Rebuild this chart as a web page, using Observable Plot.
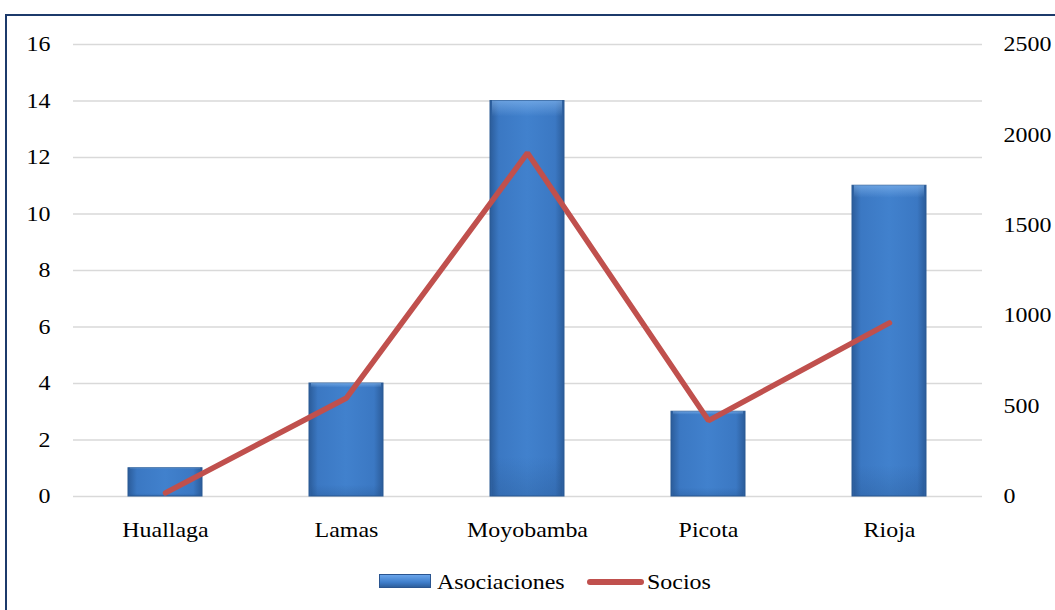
<!DOCTYPE html>
<html>
<head>
<meta charset="utf-8">
<script src="https://cdn.jsdelivr.net/npm/d3@7"></script>
<script src="https://cdn.jsdelivr.net/npm/@observablehq/plot@0.6"></script>
<style>
  html, body { margin: 0; padding: 0; background: #fff; }
  #wrap { position: relative; width: 1055px; height: 610px; overflow: hidden; font-family: "Liberation Serif", serif; }
  #frame { position: absolute; left: 5px; top: 14px; width: 1100px; height: 700px; border: 2px solid #1c3a6b; box-sizing: border-box; }
  #chart { position: absolute; left: 0; top: 0; }
  #chart svg, #chart svg text { font-family: "Liberation Serif", serif !important; }
  .lg { position: absolute; }
  .lg-text { position: absolute; top: 569px; font-size: 21px; line-height: 26px; color: #000; transform: scaleX(1.14); transform-origin: left center; white-space: nowrap; }
  .sw-bar { left: 379px; top: 574px; width: 52px; height: 14px; background: linear-gradient(to bottom, #6aa5ea, #3f7ecb 60%, #2d5f9e); border: 1px solid #2a5590; box-sizing: border-box; }
  .sw-line { left: 587px; top: 579px; width: 57px; height: 6px; background: #c0504d; border-radius: 3px; }
</style>
</head>
<body>
<div id="wrap">
  <div id="frame"></div>
  <div id="chart"></div>
  <div class="lg sw-bar"></div>
  <div class="lg-text" style="left:437px">Asociaciones</div>
  <div class="lg sw-line"></div>
  <div class="lg-text" style="left:647px">Socios</div>
</div>
<script>
const provincias = ["Huallaga", "Lamas", "Moyobamba", "Picota", "Rioja"];
const asociaciones = [1, 4, 14, 3, 11];
const socios = [20, 545, 1900, 420, 960];
const leftTicks = [0, 2, 4, 6, 8, 10, 12, 14, 16];
const rightTicks = [0, 500, 1000, 1500, 2000, 2500];
const leftMax = 16;
const rightMax = 2500;

const k = leftMax / rightMax;
const barData = provincias.map((p, i) => ({p, v: asociaciones[i]}));
const lineData = provincias.map((p, i) => ({p, v: socios[i] * k, raw: socios[i]}));

const W = 1055, H = 560;
const chart = Plot.plot({
  width: W,
  height: H,
  marginLeft: 73,
  marginRight: 73,
  marginTop: 44,
  marginBottom: H - 496,
  style: {fontFamily: "Liberation Serif", fontSize: "21px", color: "#000", background: "transparent"},
  x: {domain: provincias, paddingInner: 0.59, paddingOuter: 0.295, label: null},
  y: {domain: [0, leftMax], label: null},
  marks: [
    Plot.ruleY(leftTicks, {stroke: "#d9d9d9", strokeWidth: 1.5}),
    Plot.barY(barData, {x: "p", y: "v", fill: "url(#barGrad)", stroke: "#2a5a94", strokeWidth: 1}),
    Plot.barY(barData, {x: "p", y: "v", fill: "url(#barTop)", insetLeft: 2, insetRight: 2}),
    Plot.line(lineData, {x: "p", y: "v", stroke: "#c0504d", strokeWidth: 5.5, strokeLinecap: "round", strokeLinejoin: "miter"}),
    Plot.axisY(leftTicks, {anchor: "left", tickSize: 0, tickPadding: 23, label: null, fontSize: 21}),
    Plot.axisY(rightTicks.map(t => t * k), {anchor: "right", tickSize: 0, tickPadding: 21, label: null, fontSize: 21, textAnchor: "start", tickFormat: (d) => String(Math.round(d / k))}),
    Plot.axisX({tickSize: 0, tickPadding: 26, label: null, fontSize: 21})
  ]
});
chart.insertAdjacentHTML("afterbegin", `
<defs>
  <linearGradient id="barGrad" x1="0" x2="1" y1="0" y2="0">
    <stop offset="0" stop-color="#2b5c9a"/>
    <stop offset="0.12" stop-color="#3b78c3"/>
    <stop offset="0.5" stop-color="#4181cd"/>
    <stop offset="0.88" stop-color="#3b78c3"/>
    <stop offset="1" stop-color="#2b5c9a"/>
  </linearGradient>
  <linearGradient id="barTop" x1="0" x2="0" y1="0" y2="1">
    <stop offset="0" stop-color="#8fc0f5" stop-opacity="0.55"/>
    <stop offset="0.04" stop-color="#8fc0f5" stop-opacity="0"/>
    <stop offset="0.9" stop-color="#1f4a80" stop-opacity="0"/>
    <stop offset="1" stop-color="#1f4a80" stop-opacity="0.25"/>
  </linearGradient>
</defs>`);
// widen text horizontally about its anchor point, to match the reference's stretched type
const sx = 1.14;
chart.querySelectorAll("text").forEach(t => {
  const x = parseFloat(t.getAttribute("x")) || 0;
  const prev = t.getAttribute("transform") || "";
  t.setAttribute("transform", `${prev} translate(${x},0) scale(${sx},1) translate(${-x},0)`.trim());
});
document.getElementById("chart").appendChild(chart);
</script>
</body>
</html>
